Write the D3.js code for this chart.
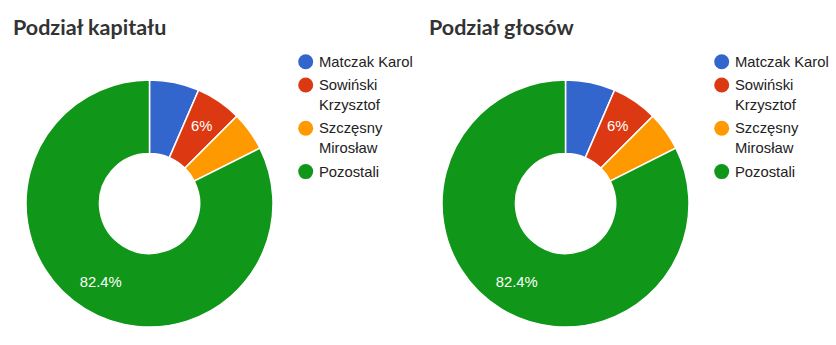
<!DOCTYPE html>
<html lang="pl">
<head>
    <meta charset="UTF-8">
    <title>Podział kapitału i głosów</title>
    <script src="https://d3js.org/d3.v7.min.js"></script>
    <style>
        body {
            margin: 0;
            background: #fff;
        }

        .title {
            font-family: Lato, sans-serif;
            font-size: 21.5px;
            font-weight: bold;
            fill: #333;
        }

        .legend text {
            font-family: "Liberation Sans", Arial, sans-serif;
            font-size: 14.8px;
            fill: #222;
        }

        .slice-label {
            font-family: "Liberation Sans", Arial, sans-serif;
            font-size: 14.8px;
            fill: #fff;
            text-anchor: middle;
        }
    </style>
</head>
<body>
    <svg id="chart" width="836" height="345"></svg>

    <script>
        // Data
        var categories = ["Matczak Karol", "Sowiński Krzysztof", "Szczęsny Mirosław", "Pozostali"];
        var legendLines = [["Matczak Karol"], ["Sowiński", "Krzysztof"], ["Szczęsny", "Mirosław"], ["Pozostali"]];
        var kapitalValues = [6.5, 6.0, 5.1, 82.4];
        var glosyValues = [6.5, 6.0, 5.1, 82.4];
        var colors = ["#3366cc", "#dc3912", "#ff9900", "#109618"];
        // slices that get a percentage label inside
        var labelledSlices = ["Sowiński Krzysztof", "Pozostali"];

        var charts = [
            { title: "Podział kapitału", values: kapitalValues, offset: 0 },
            { title: "Podział głosów", values: glosyValues, offset: 416 }
        ];

        var svg = d3.select("#chart");

        var outerR = 123.5,
            innerR = 50,
            labelR = 93;

        var color = d3.scaleOrdinal().domain(categories).range(colors);

        var pie = d3.pie().sort(null).value(function (d) { return d.value; });
        var arc = d3.arc().innerRadius(innerR).outerRadius(outerR);
        var labelArc = d3.arc().innerRadius(labelR).outerRadius(labelR);

        function fmtPct(v, total) {
            var p = (v / total * 100).toFixed(1);
            return p.replace(/\.0$/, "") + "%";
        }

        charts.forEach(function (c) {
            var g = svg.append("g").attr("transform", "translate(" + c.offset + ",0)");

            g.append("text")
                .attr("class", "title")
                .attr("x", 13)
                .attr("y", 35)
                .text(c.title);

            var data = categories.map(function (name, i) {
                return { name: name, value: c.values[i] };
            });
            var total = d3.sum(c.values);

            var donut = g.append("g").attr("transform", "translate(149.5,203.5)");

            var arcs = pie(data);

            donut.selectAll("path")
                .data(arcs)
                .enter().append("path")
                .attr("d", arc)
                .attr("fill", function (d) { return color(d.data.name); })
                .attr("stroke", "#fff")
                .attr("stroke-width", 1.5);

            donut.selectAll(".slice-label")
                .data(arcs.filter(function (d) { return labelledSlices.indexOf(d.data.name) >= 0; }))
                .enter().append("text")
                .attr("class", "slice-label")
                .attr("transform", function (d) { return "translate(" + labelArc.centroid(d) + ")"; })
                .attr("dy", "0.3em")
                .text(function (d) { return fmtPct(d.data.value, total); });

            // legend
            var legend = g.append("g").attr("class", "legend");
            var y = 61.7;
            categories.forEach(function (name, i) {
                var item = legend.append("g");
                item.append("circle")
                    .attr("cx", 305.7)
                    .attr("cy", y)
                    .attr("r", 7.5)
                    .attr("fill", color(name));
                legendLines[i].forEach(function (line, j) {
                    item.append("text")
                        .attr("x", 319)
                        .attr("y", y + j * 20)
                        .attr("dy", "0.35em")
                        .text(line);
                });
                y += (legendLines[i].length - 1) * 20 + 23.3;
            });
        });
    </script>
</body>
</html>
